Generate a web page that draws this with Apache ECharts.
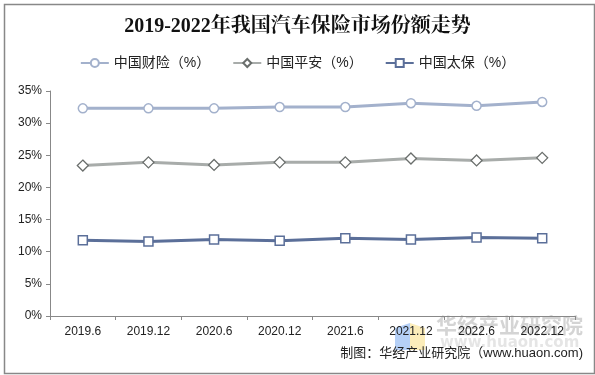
<!DOCTYPE html>
<html>
<head>
<meta charset="utf-8">
<script src="https://cdn.jsdelivr.net/npm/echarts@6/dist/echarts.min.js"></script>
<style>
html,body{margin:0;padding:0;background:#fff;}
#main{width:595px;height:375px;}
</style>
</head>
<body>
<div id="main"></div>
<script>
// 横轴日期
var categories = ['2019.6','2019.12','2020.6','2020.12','2021.6','2021.12','2022.6','2022.12'];
// 三家市场份额（%）
var picc = [32.3, 32.3, 32.3, 32.5, 32.5, 33.1, 32.7, 33.3];
var pingan = [23.4, 23.9, 23.5, 23.9, 23.9, 24.5, 24.2, 24.6];
var cpic = [11.8, 11.6, 11.9, 11.7, 12.1, 11.9, 12.2, 12.1];
var names = ['中国财险（%）','中国平安（%）','中国太保（%）'];

var chart = echarts.init(document.getElementById('main'));
var font = '"Liberation Sans", Arial, "Noto Sans CJK SC", sans-serif';

var option = {
	animation: false,
	backgroundColor: '#fff',
	title: {
		text: '2019-2022年我国汽车保险市场份额走势',
		left: 'center', top: 12,
		textStyle: {fontFamily: '"Liberation Serif", "Noto Serif CJK SC", "Noto Sans CJK SC", serif', fontSize: 20, fontWeight: 'bold', color: '#111'}
	},
	legend: {
		top: 51, left: 'center',
		itemWidth: 28, itemHeight: 10, itemGap: 22,
		textStyle: {fontFamily: font, fontSize: 14, color: '#222'},
		data: names
	},
	grid: {left: 50, right: 20, top: 91, bottom: 59},
	xAxis: {
		type: 'category', data: categories, boundaryGap: true,
		axisLine: {lineStyle: {color: '#888'}},
		axisTick: {show: true, length: 4, lineStyle: {color: '#888'}},
		axisLabel: {fontFamily: font, fontSize: 12, color: '#222', margin: 10}
	},
	yAxis: {
		type: 'value', min: 0, max: 35, interval: 5,
		axisLine: {show: true, lineStyle: {color: '#888'}},
		axisTick: {show: true, length: 4, lineStyle: {color: '#888'}},
		splitLine: {show: false},
		axisLabel: {fontFamily: font, fontSize: 12, color: '#222', formatter: '{value}%'}
	},
	series: [
		{name: names[0], type: 'line', data: picc, symbol: 'circle', symbolSize: 9,
		 lineStyle: {width: 3, color: '#a3b1cc'}, itemStyle: {color: '#fff', borderColor: '#a3b1cc', borderWidth: 1.5}},
		{name: names[1], type: 'line', data: pingan, symbol: 'diamond', symbolSize: 11,
		 lineStyle: {width: 3, color: '#a8acaa'}, itemStyle: {color: '#fff', borderColor: '#6a6e6c', borderWidth: 1.3}},
		{name: names[2], type: 'line', data: cpic, symbol: 'rect', symbolSize: 9,
		 lineStyle: {width: 3, color: '#5b6f99'}, itemStyle: {color: '#fff', borderColor: '#5b6f99', borderWidth: 1.5}}
	],
	graphic: [
		{type: 'rect', left: 2, top: 2, shape: {width: 590, height: 369}, style: {fill: 'none', stroke: '#888', lineWidth: 1.5}, silent: true},
		{type: 'polygon', shape: {points: [[395,328],[410,323],[410,350],[395,350]]}, style: {fill: 'rgba(120,170,240,0.55)'}, z: 0},
		{type: 'polygon', shape: {points: [[410,323],[425,328],[425,350],[410,350]]}, style: {fill: 'rgba(250,225,140,0.6)'}, z: 0},
		{type: 'text', left: 436, top: 315, style: {text: '华经产业研究院', font: 'bold 21px "Noto Sans CJK SC", sans-serif', fill: 'rgba(160,160,160,0.45)'}, z: 0},
		{type: 'text', left: 440, top: 336, style: {text: 'www.huaon.com', font: 'bold 15px "DejaVu Sans", sans-serif', fill: 'rgba(170,170,170,0.3)'}, z: 0},
		{type: 'text', right: 12, top: 347, style: {text: '制图：华经产业研究院（www.huaon.com)', font: '13px "Liberation Sans", "Noto Sans CJK SC", sans-serif', fill: '#222'}}
	]
};
chart.setOption(option);
</script>
</body>
</html>
